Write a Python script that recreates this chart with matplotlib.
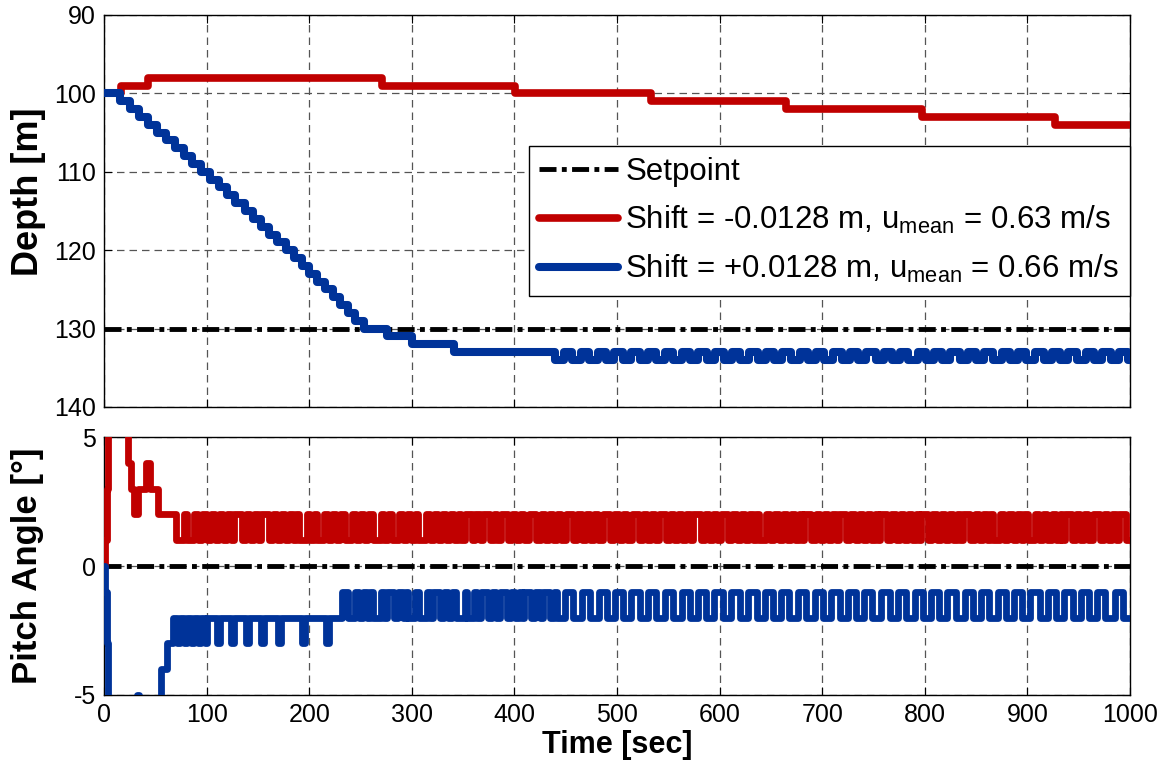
import matplotlib
matplotlib.use("Agg")
import matplotlib.pyplot as plt

plt.rcParams['font.family'] = ['Liberation Sans', 'DejaVu Sans']
plt.rcParams['mathtext.fontset'] = 'custom'
plt.rcParams['mathtext.rm'] = 'Liberation Sans'
plt.rcParams['mathtext.it'] = 'Liberation Sans:italic'
plt.rcParams['axes.unicode_minus'] = False

# ---------------- data ----------------
x_ticks = [0, 100, 200, 300, 400, 500, 600, 700, 800, 900, 1000]
depth_ticks = [90, 100, 110, 120, 130, 140]
pitch_ticks = [-5, 0, 5]
t_end = 1000

depth_setpoint = 130
pitch_setpoint = 0

# depth, shift = -0.0128 m (red)
red_depth_t = [0, 17, 43, 271, 401, 533, 665, 797, 927]
red_depth_v = [100, 99, 98, 99, 100, 101, 102, 103, 104]

# depth, shift = +0.0128 m (blue)
blue_depth_t = [0, 16, 25, 34, 43, 52, 60, 69, 78, 86, 95, 103, 112, 120, 128,
                137, 145, 153, 161, 169, 177, 185, 193, 200, 208, 215, 223, 230,
                238, 245, 253, 276, 300, 341]
blue_depth_v = [100, 101, 102, 103, 104, 105, 106, 107, 108, 109, 110, 111, 112,
                113, 114, 115, 116, 117, 118, 119, 120, 121, 122, 123, 124, 125,
                126, 127, 128, 129, 130, 131, 132, 133]
# switching times of the final 134/133 limit cycle
blue_depth_osc_t = [440, 448, 456, 465, 473, 481, 489, 497, 506, 514, 522, 530, 538,
                    547, 555, 563, 571, 579, 588, 596, 604, 612, 620, 629, 637, 645,
                    653, 661, 670, 678, 686, 694, 702, 711, 719, 727, 735, 743, 752,
                    760, 768, 776, 784, 793, 801, 809, 817, 825, 834, 842, 850, 858,
                    866, 875, 883, 891, 899, 907, 916, 924, 932, 940, 948, 957, 965,
                    973, 981, 989, 998]
blue_depth_osc_levels = [134, 133]

# pitch, red: initial transient then switching between 1 and 2 deg
red_pitch_t = [0, 1, 2.5, 4, 23.5, 26, 29, 33.5, 40.5, 44.5, 53]
red_pitch_v = [0, 1, 3, 7, 4, 3, 2, 3, 4, 3, 2]
red_pitch_sw_t = [70, 77.5, 80.5, 88, 92, 96, 100, 104, 108, 112, 116, 120, 124, 127,
                  134.5, 138.5, 142.5, 146.5, 150, 153.5, 160.5, 164.5, 168.5, 172.5,
                  176.5, 180.5, 184, 187, 190.5, 197.5, 201, 204.5, 207.5, 214.5,
                  218.5, 222.5, 226.5, 230.5, 234.5, 241.5, 245.5, 249.5, 253.5, 257.5,
                  262.5, 269.5, 273, 277, 280.5, 287.5, 291.5, 295.5, 299.5, 303,
                  306.5, 313.5, 317.5, 321.5, 325.5, 329.5, 333.5, 337.5, 341.5, 345,
                  348, 351.5, 358.5, 362, 366, 369.5, 376.5, 380, 383, 386.5, 393.5,
                  397.5, 401.5, 405.5, 409.5, 414.5, 421.5, 425.5, 429.5, 433.5, 437.5,
                  441.5, 445.5, 450.5, 457.5, 461.5, 465.5, 469.5, 473.5, 477.5, 481.5,
                  486.5, 493.5, 497.5, 501.5, 505.5, 509.5, 514.5, 521.5, 525.5, 529.5,
                  533.5, 537, 540.5, 547.5, 551.5, 555.5, 559.5, 563.5, 567.5, 571,
                  574.5, 581.5, 585.5, 589.5, 593.5, 597.5, 601.5, 608.5, 612.5, 616.5,
                  620.5, 624.5, 628.5, 632.5, 635.5, 638.5, 645.5, 649.5, 653.5, 657.5,
                  661.5, 665.5, 669.5, 673.5, 677.5, 680, 682.5, 689.5, 693.5, 697.5,
                  701.5, 705.5, 709.5, 713, 716.5, 723.5, 727.5, 731.5, 735.5, 739.5,
                  743.5, 747.5, 751.5, 754, 756.5, 763.5, 767.5, 771.5, 775.5, 779.5,
                  783.5, 787.5, 791.5, 794, 796.5, 803.5, 807.5, 811.5, 815.5, 819.5,
                  823.5, 827.5, 831.5, 834.5, 837.5, 844.5, 848.5, 852.5, 856.5, 860.5,
                  863.5, 866.5, 873.5, 877.5, 881.5, 885.5, 889.5, 893.5, 897, 900.5,
                  907.5, 911.5, 915.5, 919.5, 923.5, 927.5, 931.5, 934, 936.5, 943.5,
                  947.5, 951.5, 955.5, 959.5, 963.5, 970.5, 974.5, 978.5, 982.5, 986,
                  989.5, 996.5]
red_pitch_sw_levels = [1, 2]

# pitch, blue: initial transient then switching between -1 and -2 deg
blue_pitch_t = [0, 1, 2.5, 4, 32, 34, 56, 61, 67.5, 71, 74, 78, 81, 85, 88, 92, 95,
                98, 100, 110, 113, 124, 127, 138, 141, 153, 156, 170, 173, 193, 196,
                216, 219]
blue_pitch_v = [0, -1, -3, -7, -5, -7, -4, -3, -2, -3, -2, -3, -2, -3, -2, -3, -2,
                -3, -2, -3, -2, -3, -2, -3, -2, -3, -2, -3, -2, -3, -2, -3, -2]
blue_pitch_sw_t = [232, 237.5, 244.5, 248.5, 252.5, 256.5, 259, 262.5, 269.5, 273,
                   276, 283, 287, 291, 294, 296.5, 303.5, 307.5, 314.5, 317.5, 320.5,
                   327.5, 331.5, 335.5, 339.5, 343, 351.5, 354, 361, 364, 367.5, 374.5,
                   378.5, 382.5, 385.5, 392.5, 396.5, 400.5, 404.5, 407, 409.5, 416.5,
                   420.5, 424.5, 427.5, 434.5, 438.5, 441.5, 449, 457, 466, 474, 482,
                   490, 498, 506, 514, 522, 530, 538, 547, 555, 563, 571, 579, 587,
                   595, 603, 611, 620, 628, 636, 644, 652, 660, 668, 676, 684, 693,
                   701, 709, 717, 725, 733, 741, 749, 757, 766, 774, 782, 790, 798,
                   806, 814, 822, 830, 839, 847, 855, 863, 871, 879, 887, 895, 903,
                   912, 920, 928, 936, 944, 952, 960, 968, 976, 985, 993]
blue_pitch_sw_levels = [-1, -2]

labels = ['Setpoint',
          r'Shift = -0.0128 m, u$_{\mathrm{mean}}$ = 0.63 m/s',
          r'Shift = +0.0128 m, u$_{\mathrm{mean}}$ = 0.66 m/s']

RED = '#C00000'
BLUE = '#003399'


def build(t0, v0, sw_t=(), levels=(0, 0)):
    t = list(t0) + list(sw_t)
    v = list(v0) + [levels[i % 2] for i in range(len(sw_t))]
    t.append(t_end)
    v.append(v[-1])
    return t, v


fig = plt.figure(figsize=(11.68, 7.71), dpi=100)
W, H = 1168, 771
ax1 = fig.add_axes([104 / W, 1 - 407 / H, 1026 / W, 392 / H])
ax2 = fig.add_axes([104 / W, 1 - 695 / H, 1026 / W, 258 / H])

grid_kw = dict(color='#555555', linestyle=(0, (6, 4)), linewidth=0.9)
sp_kw = dict(color='black', linewidth=3.5, dashes=(3.5, 1.1, 1.0, 1.1))
line_kw = dict(drawstyle='steps-post', solid_joinstyle='round', solid_capstyle='round')

# ---- depth ----
sp1, = ax1.plot([0, t_end], [depth_setpoint, depth_setpoint], **sp_kw, zorder=3)
tr, vr = build(red_depth_t, red_depth_v)
l_red, = ax1.plot(tr, vr, color=RED, linewidth=5.5, zorder=4, **line_kw)
tb, vb = build(blue_depth_t, blue_depth_v, blue_depth_osc_t, blue_depth_osc_levels)
l_blue, = ax1.plot(tb, vb, color=BLUE, linewidth=5.8, zorder=5, **line_kw)

ax1.set_xlim(0, 1000)
ax1.set_ylim(140, 90)
ax1.set_yticks(depth_ticks)
ax1.set_xticks(x_ticks)
ax1.set_xticklabels([])
ax1.set_ylabel('Depth [m]', fontsize=26, fontweight='bold', va='center')
ax1.yaxis.set_label_coords((28 - 104) / 1026, 0.55)
ax1.grid(True, **grid_kw)
ax1.set_axisbelow(True)

leg = ax1.legend([sp1, l_red, l_blue], labels, loc='upper right',
                 bbox_to_anchor=(1.0, 0.666), borderaxespad=0, fontsize=22.5,
                 handlelength=2.5, handletextpad=0.25, labelspacing=0.55,
                 fancybox=False, framealpha=1, edgecolor='black',
                 borderpad=0.35)
leg.get_frame().set_linewidth(1.0)
leg.set_zorder(10)

# ---- pitch ----
ax2.plot([0, t_end], [pitch_setpoint, pitch_setpoint], **sp_kw, zorder=3)
tpr, vpr = build(red_pitch_t, red_pitch_v, red_pitch_sw_t, red_pitch_sw_levels)
ax2.plot(tpr, vpr, color=RED, linewidth=4.9, zorder=4, **line_kw)
tpb, vpb = build(blue_pitch_t, blue_pitch_v, blue_pitch_sw_t, blue_pitch_sw_levels)
ax2.plot(tpb, vpb, color=BLUE, linewidth=4.9, zorder=5, **line_kw)

ax2.set_xlim(0, 1000)
ax2.set_ylim(-5, 5)
ax2.set_yticks(pitch_ticks)
ax2.set_xticks(x_ticks)
ax2.set_xlabel('Time [sec]', fontsize=22, fontweight='bold', labelpad=2)
ax2.set_ylabel('Pitch Angle [°]', fontsize=25, fontweight='bold', va='center')
ax2.yaxis.set_label_coords((28 - 104) / 1026, 0.5)
ax2.grid(True, **grid_kw)
ax2.set_axisbelow(True)

for ax in (ax1, ax2):
    ax.tick_params(direction='in', length=6, width=0.8, top=True, right=True,
                   labelsize=18, pad=6)
    for s in ax.spines.values():
        s.set_linewidth(1.0)
        s.set_color('black')

fig.savefig('out.png', dpi=100)
